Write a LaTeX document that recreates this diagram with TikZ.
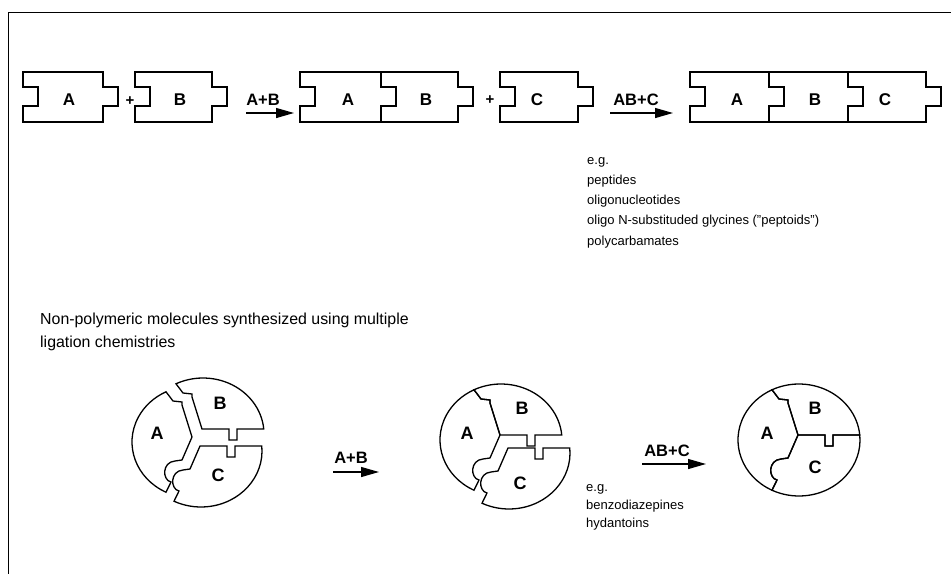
\documentclass[tikz,border=0pt]{standalone}
\usepackage{fontspec}
\setmainfont{Liberation Sans}
\usetikzlibrary{arrows.meta,calc}
\tikzset{
  piece/.style={draw=black, line width=1.3pt, line join=miter},
  lbl/.style={font=\fontsize{17}{20}\selectfont\bfseries, inner sep=0pt},
  clbl/.style={font=\fontsize{18}{21}\selectfont\bfseries, inner sep=0pt},
  rxn/.style={font=\fontsize{16.5}{19}\selectfont\bfseries, inner sep=0pt},
  plus/.style={font=\fontsize{15}{16}\selectfont\bfseries, inner sep=0pt},
  note/.style={font=\fontsize{13}{16}\selectfont, anchor=base west, inner sep=0pt},
  head/.style={font=\fontsize{15.9}{18}\selectfont, anchor=base west, inner sep=0pt},
  rarrow/.style={line width=1.3pt, -{Triangle[length=18pt,width=10pt]}},
  % circle pieces (local pixel coordinates, y downwards)
  circA/.pic={\draw[piece] (116.27:61pt and 56pt) -- (-20,-41) -- (-11,-40) -- (-11,-37) -- (-1,-5) -- (-11,18) -- (-18,19)
      .. controls (-31,20) and (-31,38) .. (-22,40)
      -- (243.73:61pt and 56pt) arc[start angle=243.73, end angle=116.27, x radius=61pt, y radius=56pt] -- cycle;},
  circB/.pic={\draw[piece] (116.27:61pt and 56pt) -- (-20,-41) -- (-11,-40) -- (-11,-37) -- (-1,-5) -- (26,-5) -- (26,6) -- (34,6) -- (34,-5)
      -- (5.12:61pt and 56pt) arc[start angle=5.12, end angle=116.27, x radius=61pt, y radius=56pt] -- cycle;},
  circC/.pic={\draw[piece] (-1,-5) -- (26,-5) -- (26,6) -- (34,6) -- (34,-5)
      -- (5.12:61pt and 56pt) arc[start angle=5.12, end angle=-116.27, x radius=61pt, y radius=56pt]
      -- (-22,40) .. controls (-31,38) and (-31,20) .. (-18,19) -- (-11,18) -- cycle;},
}
\begin{document}
\begin{tikzpicture}[x=1pt,y=-1pt]
\useasboundingbox (0,0) rectangle (951,574);
% frame
\draw[line width=1pt] (951,12) -- (8,12) -- (8,574);

% ---------- top row: linear pieces ----------
% single A
\draw[piece] (23,72) -- (103,72) -- (103,87) -- (118,87) -- (118,106) -- (103,106) -- (103,122) -- (23,122) -- (23,106) -- (38,106) -- (38,87) -- (23,87) -- cycle;
\node[lbl] (tA) at (69,100) {A};
\node[plus] (p1) at (130,101) {+};
% single B
\draw[piece] (135,72) -- (212,72) -- (212,87) -- (227,87) -- (227,106) -- (212,106) -- (212,122) -- (135,122) -- (135,106) -- (150,106) -- (150,87) -- (135,87) -- cycle;
\node[lbl] (tB) at (180,100) {B};
% arrow A+B
\node[rxn] (r1) at (263,100) {A+B};
\coordinate (r1s) at (246,113);
\coordinate (r1e) at (294,113);
\draw[rarrow] (r1s) -- (r1e);
% AB
\draw[piece] (300,72) -- (458,72) -- (458,87) -- (473,87) -- (473,106) -- (458,106) -- (458,122) -- (300,122) -- (300,106) -- (315,106) -- (315,87) -- (300,87) -- cycle;
\draw[piece] (381,72) -- (381,87) -- (396,87) -- (396,106) -- (381,106) -- (381,122);
\node[lbl] (tAB1) at (348,100) {A};
\node[lbl] (tAB2) at (426,100) {B};
\node[plus] (p2) at (490,100) {+};
% C
\draw[piece] (500,72) -- (578,72) -- (578,87) -- (593,87) -- (593,106) -- (578,106) -- (578,122) -- (500,122) -- (500,106) -- (515,106) -- (515,87) -- (500,87) -- cycle;
\node[lbl] (tC) at (537,100) {C};
% arrow AB+C
\node[rxn] (r2) at (636,100) {AB+C};
\coordinate (r2s) at (610,113);
\coordinate (r2e) at (673,113);
\draw[rarrow] (r2s) -- (r2e);
% ABC
\draw[piece] (690,72) -- (926,72) -- (926,87) -- (941,87) -- (941,106) -- (926,106) -- (926,122) -- (690,122) -- (690,106) -- (705,106) -- (705,87) -- (690,87) -- cycle;
\draw[piece] (769,72) -- (769,87) -- (784,87) -- (784,106) -- (769,106) -- (769,122);
\draw[piece] (848,72) -- (848,87) -- (863,87) -- (863,106) -- (848,106) -- (848,122);
\node[lbl] (tABC1) at (737,100) {A};
\node[lbl] (tABC2) at (815,100) {B};
\node[lbl] (tABC3) at (885,100) {C};

% examples (top)
\node[note] (e1) at (587,164) {e.g.};
\node[note] (e2) at (587,184) {peptides};
\node[note] (e3) at (587,204) {oligonucleotides};
\node[note] (e4) at (587,224) {oligo N-substituded glycines ("peptoids")};
\node[note] (e5) at (587,245) {polycarbamates};

% heading
\node[head] (h1) at (40,324) {Non-polymeric molecules synthesized using multiple};
\node[head] (h2) at (40,347) {ligation chemistries};

% ---------- bottom row: circular pieces ----------
\pic at (193,442) {circA};
\pic at (203,434) {circB};
\pic at (201,451) {circC};
\node[clbl] (cA1) at (157,433) {A};
\node[clbl] (cB1) at (220,403) {B};
\node[clbl] (cC1) at (218,475) {C};

\node[rxn] (r3) at (351,458) {A+B};
\coordinate (r3s) at (333,472);
\coordinate (r3e) at (379,472);
\draw[rarrow] (r3s) -- (r3e);

\pic at (501,440) {circA};
\pic at (501,440) {circB};
\pic at (509,453) {circC};
\node[clbl] (cA2) at (467,433) {A};
\node[clbl] (cB2) at (522,408) {B};
\node[clbl] (cC2) at (520,483) {C};

\node[rxn] (r4) at (667,451) {AB+C};
\coordinate (r4s) at (642,464);
\coordinate (r4e) at (706,464);
\draw[rarrow] (r4s) -- (r4e);

\node[note] (f1) at (586,491) {e.g.};
\node[note] (f2) at (586,509) {benzodiazepines};
\node[note] (f3) at (586,527) {hydantoins};

\pic at (799,440) {circA};
\pic at (799,440) {circB};
\pic at (799,440) {circC};
\node[clbl] (cA3) at (767,433) {A};
\node[clbl] (cB3) at (815,408) {B};
\node[clbl] (cC3) at (815,467) {C};
\end{tikzpicture}
\end{document}
